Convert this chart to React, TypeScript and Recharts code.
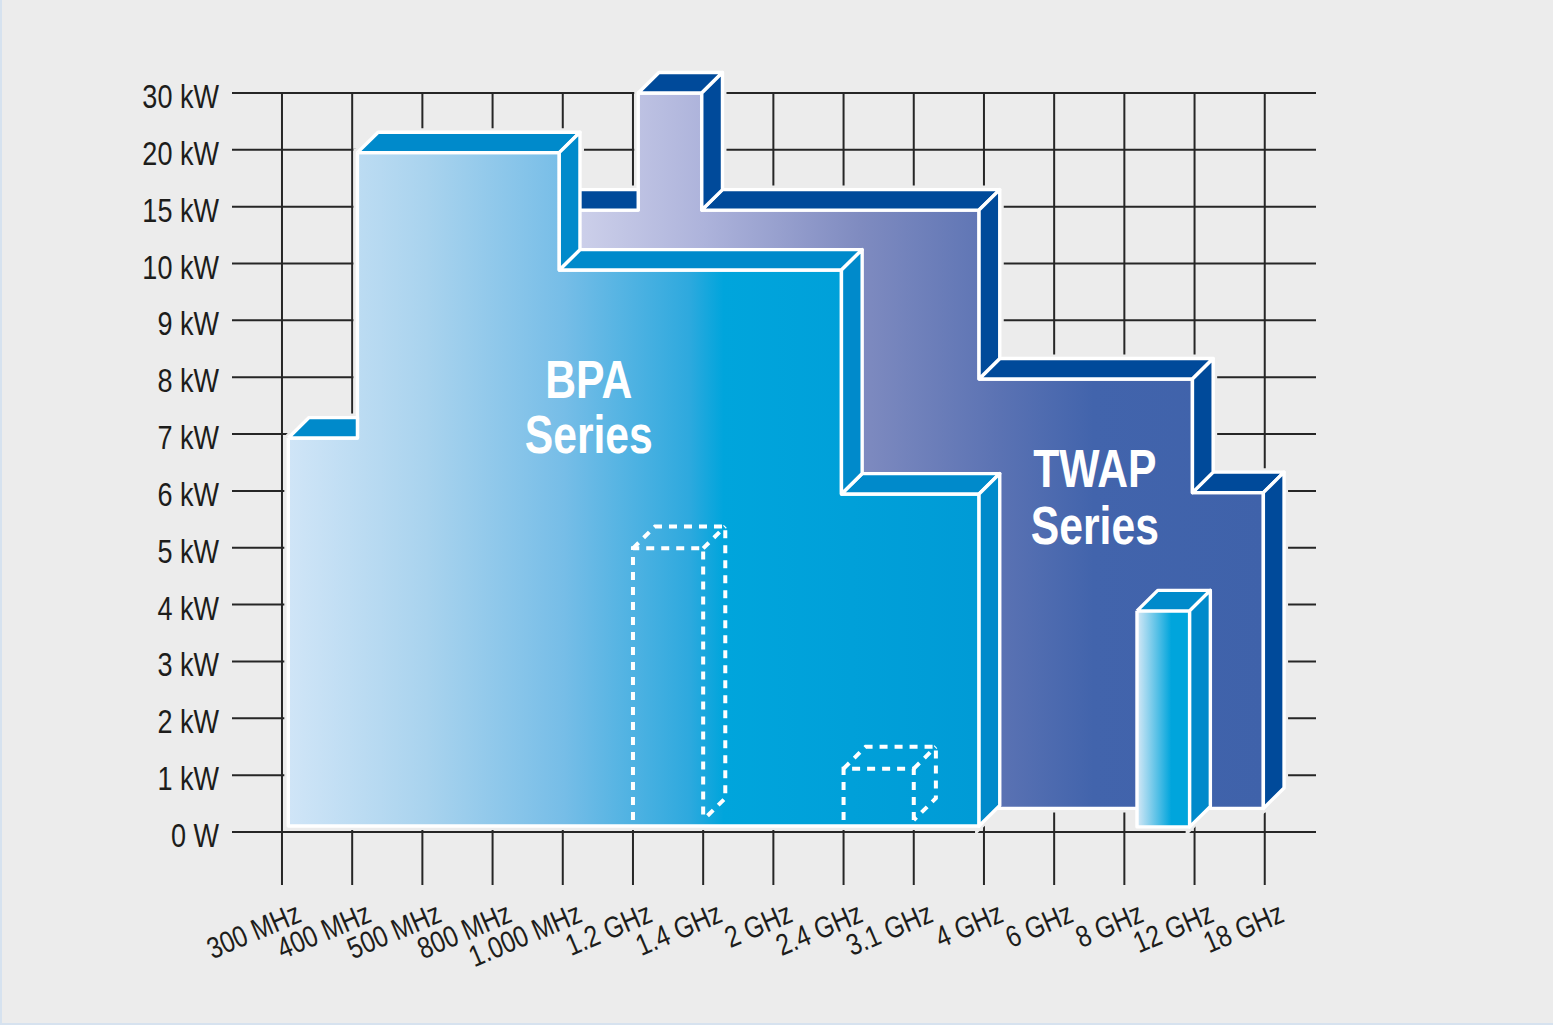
import { Area, ComposedChart, Line, ReferenceDot, ReferenceLine, XAxis, YAxis } from "recharts";

// both axes are ordinal steps, so values are positions on the step scale (0 = first tick)
const freqLabels = ["300 MHz", "400 MHz", "500 MHz", "800 MHz", "1.000 MHz", "1.2 GHz", "1.4 GHz", "2 GHz", "2.4 GHz", "3.1 GHz", "4 GHz", "6 GHz", "8 GHz", "12 GHz", "18 GHz"];
const powerLabels = ["0 W", "1 kW", "2 kW", "3 kW", "4 kW", "5 kW", "6 kW", "7 kW", "8 kW", "9 kW", "10 kW", "15 kW", "20 kW", "30 kW"];

const bpaEdges = [0.09, 1.075, 3.95, 7.97, 9.93];
const bpaLevels = [6.93, 11.95, 9.885, 5.945];
const bpaFloor = 0.105;

const twapEdges = [3.9, 5.075, 5.98, 9.93, 12.97, 13.98];
const twapLevels = [10.94, 13, 10.94, 7.97, 5.97];
const twapFloor = 0.415;

const barEdges = [12.18, 12.93];
const barLevels = [3.89];
const barFloor = 0.09;

// dashed outlines of the small boxes inside BPA: left, right, top, bottom
const ghostBoxes = [
  [5.0, 6.0, 4.99, 0.21],
  [8.0, 9.0, 1.115, 0.21],
];

const textLabels = [
  { text: "BPA", x: 4.37, y: 7.63 },
  { text: "Series", x: 4.37, y: 6.67 },
  { text: "TWAP", x: 11.58, y: 6.07 },
  { text: "Series", x: 11.58, y: 5.07 },
];

const depthX = 0.295;
const depthY = 0.36;
const ghostDepthX = 0.315;
const ghostDepthY = 0.385;
const freqDomain = [-0.712, 14.73];
const powerDomain = [-0.932, 13.58];
const bg = "#ececec";

type Row = { x: number; r: number[] };

// top and side faces of an extruded step outline
function stepFaces(edges: number[], levels: number[], floor: number) {
  const tops: Row[][] = [];
  const sides: Row[][] = [];
  levels.forEach((y, i) => {
    const x1 = edges[i];
    const x2 = edges[i + 1];
    const next = levels[i + 1];
    const rises = next !== undefined && next > y;
    const top: Row[] = [
      { x: x1, r: [y, y] },
      { x: x1 + depthX, r: [y, y + depthY] },
      { x: x2, r: [y, y + depthY] },
    ];
    if (!rises) top.push({ x: x2 + depthX, r: [y + depthY, y + depthY] });
    tops.push(top);
    if (!rises) {
      const low = next === undefined ? floor : next;
      sides.push([
        { x: x2, r: [low, y] },
        { x: x2 + depthX, r: [low + depthY, y + depthY] },
      ]);
    }
  });
  return { tops, sides };
}

function frontFace(edges: number[], levels: number[], floor: number) {
  const rows: Row[] = [];
  levels.forEach((y, i) => {
    rows.push({ x: edges[i], r: [floor, y] });
    rows.push({ x: edges[i + 1], r: [floor, y] });
  });
  return rows;
}

function loop(rows: Row[]) {
  const up = rows.map((d) => ({ x: d.x, y: d.r[1] }));
  const down = rows.map((d) => ({ x: d.x, y: d.r[0] })).reverse();
  return [...up, ...down, up[0]];
}

const twap = stepFaces(twapEdges, twapLevels, twapFloor);
const bpa = stepFaces(bpaEdges, bpaLevels, bpaFloor);
const bar = stepFaces(barEdges, barLevels, barFloor);

const faces = [
  { rows: frontFace(twapEdges, twapLevels, twapFloor), fill: "url(#twapFront)" },
  ...twap.tops.map((rows) => ({ rows, fill: "#004a9a" })),
  ...twap.sides.map((rows) => ({ rows, fill: "#004a9a" })),
  { rows: frontFace(bpaEdges, bpaLevels, bpaFloor), fill: "url(#bpaFront)" },
  ...bpa.tops.map((rows) => ({ rows, fill: "#008acb" })),
  ...bpa.sides.map((rows) => ({ rows, fill: "#008acb" })),
  { rows: frontFace(barEdges, barLevels, barFloor), fill: "url(#barFront)" },
  ...bar.tops.map((rows) => ({ rows, fill: "#008acb" })),
  ...bar.sides.map((rows) => ({ rows, fill: "#008acb" })),
];

const ghostLines = ghostBoxes.flatMap(([l, r, t, b]) => [
  [{ x: l, y: b }, { x: l, y: t }, { x: r, y: t }, { x: r, y: b }],
  [
    { x: l, y: t },
    { x: l + ghostDepthX, y: t + ghostDepthY },
    { x: r + ghostDepthX, y: t + ghostDepthY },
    { x: r + ghostDepthX, y: b + ghostDepthY },
    { x: r, y: b },
  ],
  [{ x: r, y: t }, { x: r + ghostDepthX, y: t + ghostDepthY }],
]);

// no condensed face is installed, so Liberation Sans gets squeezed horizontally
const axisFont = "'Liberation Sans', sans-serif";

const LeftTick = ({ x, y, payload }: any) => (
  <text transform={`translate(${x} ${y + 15}) scale(0.82 1)`} textAnchor="end" fontFamily={axisFont} fontSize={33} fill="#1d1d1b">
    {powerLabels[payload.value]}
  </text>
);

const RightTick = ({ x, y, payload }: any) => (
  <text transform={`translate(${x + 95} ${y + 15}) scale(0.82 1)`} textAnchor="end" fontFamily={axisFont} fontSize={33} fill="#1d1d1b">
    {powerLabels[payload.value]}
  </text>
);

const FreqTick = ({ x, y, payload }: any) => (
  <text
    transform={`translate(${x + 21} ${y + 36}) rotate(-23) scale(0.82 1)`}
    textAnchor="end"
    fontFamily={axisFont}
    fontSize={30}
    fill="#1d1d1b"
  >
    {freqLabels[payload.value]}
  </text>
);

export default function App() {
  return (
    <div style={{ position: "absolute", left: 0, top: 0, width: 1553, height: 1025, background: bg, boxShadow: "inset 2px -2px 0 #d6e2ef" }}>
      <ComposedChart width={1553} height={1025} margin={{ top: 60, right: 0, bottom: 0, left: 0 }}>
        <defs>
          <linearGradient id="bpaFront" x1="0" y1="0" x2="1" y2="0">
            <stop offset="0" stopColor="#d0e5f7" />
            <stop offset="0.2" stopColor="#a9d3ee" />
            <stop offset="0.4" stopColor="#76bde7" />
            <stop offset="0.58" stopColor="#2ea9de" />
            <stop offset="0.63" stopColor="#00a5dc" />
            <stop offset="1" stopColor="#009bd6" />
          </linearGradient>
          <linearGradient id="twapFront" x1="0" y1="0" x2="1" y2="0">
            <stop offset="0.03" stopColor="#cdd0ea" />
            <stop offset="0.21" stopColor="#adb3db" />
            <stop offset="0.43" stopColor="#7f8bc0" />
            <stop offset="0.63" stopColor="#5a72b3" />
            <stop offset="0.76" stopColor="#4264ac" />
            <stop offset="1" stopColor="#3f62aa" />
          </linearGradient>
          <linearGradient id="barFront" x1="0" y1="0" x2="1" y2="0">
            <stop offset="0" stopColor="#d5e8f6" />
            <stop offset="0.65" stopColor="#00a5dc" />
            <stop offset="1" stopColor="#00a5dc" />
          </linearGradient>
        </defs>

        <XAxis
          xAxisId="f"
          type="number"
          dataKey="x"
          domain={freqDomain}
          ticks={freqLabels.map((_, i) => i)}
          interval={0}
          height={140}
          axisLine={false}
          tickLine={false}
          tickSize={0}
          tickMargin={0}
          tick={FreqTick}
        />
        <YAxis
          yAxisId="p"
          type="number"
          domain={powerDomain}
          ticks={powerLabels.map((_, i) => i)}
          interval={0}
          width={232}
          axisLine={false}
          tickLine={false}
          tickSize={0}
          tickMargin={13}
          tick={LeftTick}
        />
        <YAxis
          yAxisId="q"
          orientation="right"
          type="number"
          domain={powerDomain}
          ticks={powerLabels.map((_, i) => i)}
          interval={0}
          width={237}
          axisLine={false}
          tickLine={false}
          tickSize={0}
          tickMargin={0}
          tick={RightTick}
        />

        {powerLabels.map((_, i) => (
          <ReferenceLine key={`h${i}`} xAxisId="f" yAxisId="p" y={i} stroke="#262626" strokeWidth={2} zIndex={10} />
        ))}
        {freqLabels.map((_, i) => (
          <ReferenceLine
            key={`v${i}`}
            xAxisId="f"
            yAxisId="p"
            segment={[{ x: i, y: powerDomain[0] }, { x: i, y: powerLabels.length - 1 }]}
            stroke="#262626"
            strokeWidth={2}
            zIndex={10}
          />
        ))}

        {/* background halo keeps the grid off the shapes */}
        {faces.map((f, i) => (
          <Line
            key={`halo${i}`}
            xAxisId="f"
            yAxisId="p"
            data={loop(f.rows)}
            dataKey="y"
            type="linear"
            stroke={bg}
            strokeWidth={8}
            dot={false}
            activeDot={false}
            isAnimationActive={false}
            zIndex={20}
          />
        ))}

        {faces.flatMap((f, i) => [
          <Area
            key={`face${i}`}
            xAxisId="f"
            yAxisId="p"
            data={f.rows}
            dataKey="r"
            type="linear"
            fill={f.fill}
            fillOpacity={1}
            stroke="none"
            dot={false}
            activeDot={false}
            isAnimationActive={false}
            zIndex={30 + i * 2}
          />,
          <Line
            key={`edge${i}`}
            xAxisId="f"
            yAxisId="p"
            data={loop(f.rows)}
            dataKey="y"
            type="linear"
            stroke="#ffffff"
            strokeWidth={3.4}
            strokeLinejoin="round"
            dot={false}
            activeDot={false}
            isAnimationActive={false}
            zIndex={31 + i * 2}
          />,
        ])}

        {ghostLines.map((pts, i) => (
          <Line
            key={`ghost${i}`}
            xAxisId="f"
            yAxisId="p"
            data={pts}
            dataKey="y"
            type="linear"
            stroke="#ffffff"
            strokeWidth={4}
            strokeDasharray="8 7"
            dot={false}
            activeDot={false}
            isAnimationActive={false}
            zIndex={120}
          />
        ))}

        {textLabels.map((t, i) => (
          <ReferenceDot
            key={`t${i}`}
            xAxisId="f"
            yAxisId="p"
            x={t.x}
            y={t.y}
            r={0}
            zIndex={130}
            shape={(p: any) => (
              <text
                transform={`translate(${p.cx} ${p.cy}) scale(0.79 1)`}
                textAnchor="middle"
                fontFamily={axisFont}
                fontWeight="bold"
                fontSize={54}
                fill="#ffffff"
              >
                {t.text}
              </text>
            )}
          />
        ))}
      </ComposedChart>
    </div>
  );
}
